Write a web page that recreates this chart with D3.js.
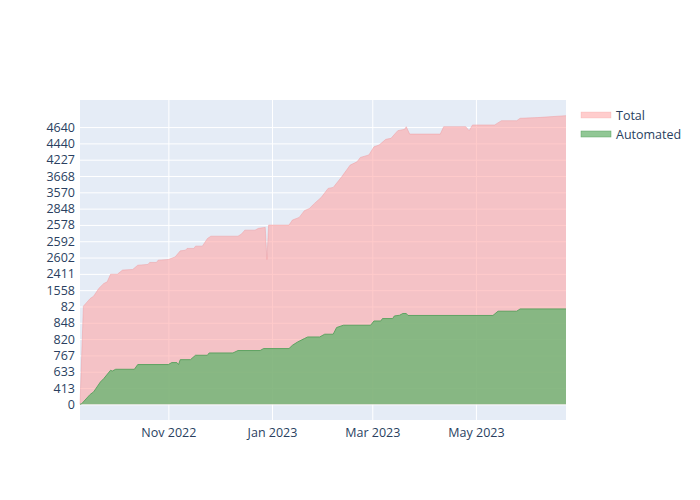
<!DOCTYPE html>
<html>
<head>
<meta charset="utf-8">
<script src="https://cdn.jsdelivr.net/npm/d3@7"></script>
<style>
  body { margin: 0; background: #fff; }
  svg { font-family: 'Open Sans', verdana, arial, sans-serif; }
</style>
</head>
<body>
<div id="chart"></div>
<script>
// y axis is categorical: labels in order of first appearance
const yCategories = ['0', '413', '633', '767', '820', '848', '82', '1558', '2411', '2602', '2592', '2578', '2848', '3570', '3668', '4227', '4440', '4640'];
const xTicks = ['2022-11-01', '2023-01-01', '2023-03-01', '2023-05-01'];
const seriesNames = ['Total', 'Automated'];

// values are positions on the category axis (1 = one labelled category step)
const totalDates = ['2022-09-10', '2022-09-12', '2022-09-16', '2022-09-18', '2022-09-21', '2022-09-24', '2022-09-26', '2022-09-28', '2022-10-02', '2022-10-05', '2022-10-11', '2022-10-14', '2022-10-20', '2022-10-21', '2022-10-25', '2022-10-26', '2022-11-01', '2022-11-05', '2022-11-08', '2022-11-11', '2022-11-12', '2022-11-16', '2022-11-17', '2022-11-21', '2022-11-24', '2022-11-26', '2022-12-12', '2022-12-14', '2022-12-16', '2022-12-22', '2022-12-24', '2022-12-28', '2022-12-29', '2022-12-30', '2023-01-11', '2023-01-13', '2023-01-17', '2023-01-20', '2023-01-23', '2023-01-26', '2023-01-30', '2023-02-03', '2023-02-06', '2023-02-11', '2023-02-16', '2023-02-20', '2023-02-22', '2023-02-27', '2023-03-02', '2023-03-05', '2023-03-09', '2023-03-12', '2023-03-16', '2023-03-20', '2023-03-21', '2023-03-23', '2023-04-10', '2023-04-12', '2023-04-25', '2023-04-27', '2023-04-29', '2023-05-12', '2023-05-16', '2023-05-25', '2023-05-27', '2023-06-06', '2023-06-23'];
const totalValues = [0, 6.02, 6.49, 6.63, 7.1, 7.41, 7.51, 7.98, 7.98, 8.23, 8.27, 8.53, 8.58, 8.7, 8.7, 8.84, 8.88, 9.04, 9.41, 9.45, 9.56, 9.56, 9.7, 9.7, 10.17, 10.31, 10.31, 10.44, 10.68, 10.68, 10.79, 10.85, 8.88, 10.99, 10.99, 11.3, 11.46, 11.87, 12.01, 12.32, 12.69, 13.24, 13.3, 13.95, 14.67, 14.87, 15.14, 15.29, 15.79, 15.9, 16.25, 16.31, 16.78, 16.86, 17.02, 16.57, 16.57, 17.02, 17.02, 16.78, 17.13, 17.13, 17.39, 17.39, 17.54, 17.58, 17.7];

const automatedDates = ['2022-09-10', '2022-09-11', '2022-09-16', '2022-09-18', '2022-09-22', '2022-09-24', '2022-09-28', '2022-09-29', '2022-10-01', '2022-10-12', '2022-10-14', '2022-11-01', '2022-11-03', '2022-11-06', '2022-11-07', '2022-11-08', '2022-11-14', '2022-11-17', '2022-11-24', '2022-11-25', '2022-12-09', '2022-12-12', '2022-12-25', '2022-12-27', '2023-01-11', '2023-01-13', '2023-01-16', '2023-01-20', '2023-01-22', '2023-01-29', '2023-02-01', '2023-02-06', '2023-02-08', '2023-02-12', '2023-02-28', '2023-03-02', '2023-03-06', '2023-03-07', '2023-03-13', '2023-03-14', '2023-03-17', '2023-03-19', '2023-03-21', '2023-03-22', '2023-05-11', '2023-05-14', '2023-05-25', '2023-05-27', '2023-06-23'];
const automatedValues = [0, 0.04, 0.61, 0.76, 1.37, 1.58, 2.09, 2.04, 2.15, 2.15, 2.44, 2.44, 2.56, 2.56, 2.44, 2.74, 2.74, 3.01, 3.01, 3.15, 3.15, 3.3, 3.3, 3.42, 3.42, 3.62, 3.82, 4.03, 4.13, 4.13, 4.3, 4.3, 4.71, 4.85, 4.85, 5.11, 5.11, 5.26, 5.26, 5.42, 5.46, 5.57, 5.57, 5.45, 5.45, 5.71, 5.71, 5.85, 5.85];

const parseDate = d3.timeParse('%Y-%m-%d');
const fontColor = '#2a3f5f';
const fontSize = '12.5px';

function drawChart() {
  const width = 700;
  const height = 500;
  const plot = { left: 80, top: 100, right: 566, bottom: 420 };

  const series = [
    {
      name: seriesNames[0],
      data: totalDates.map((d, i) => ({ date: parseDate(d), value: totalValues[i] })),
      fill: 'rgba(255,164,164,0.58)',
      line: 'rgba(240,150,155,0.45)',
      legendFill: 'rgba(255,164,164,0.55)',
    },
    {
      name: seriesNames[1],
      data: automatedDates.map((d, i) => ({ date: parseDate(d), value: automatedValues[i] })),
      fill: 'rgba(108,180,114,0.8)',
      line: 'rgba(85,160,92,0.9)',
      legendFill: 'rgba(108,180,114,0.75)',
    },
  ];

  const allDates = series.flatMap((s) => s.data.map((d) => d.date));

  const svg = d3
    .select('#chart')
    .append('svg')
    .attr('width', width)
    .attr('height', height);

  svg.append('rect').attr('width', width).attr('height', height).attr('fill', '#fff');

  const x = d3
    .scaleTime()
    .domain(d3.extent(allDates))
    .range([plot.left, plot.right]);

  const y = d3
    .scaleLinear()
    .domain([-0.96, 18.66])
    .range([plot.bottom, plot.top]);

  // plot background
  svg
    .append('rect')
    .attr('x', plot.left)
    .attr('y', plot.top)
    .attr('width', plot.right - plot.left)
    .attr('height', plot.bottom - plot.top)
    .attr('fill', '#e5ecf6');

  const yTickPos = yCategories.map((c, i) => i);
  const xTickDates = xTicks.map(parseDate);

  // grids
  svg
    .append('g')
    .attr('class', 'grid')
    .attr('transform', `translate(${plot.left},0)`)
    .call(d3.axisLeft(y).tickValues(yTickPos).tickSize(-(plot.right - plot.left)).tickFormat(''))
    .call((g) => g.select('.domain').remove())
    .call((g) => g.selectAll('line').attr('stroke', '#fff').attr('stroke-width', 1));

  svg
    .append('g')
    .attr('class', 'grid')
    .attr('transform', `translate(0,${plot.bottom})`)
    .call(d3.axisBottom(x).tickValues(xTickDates).tickSize(-(plot.bottom - plot.top)).tickFormat(''))
    .call((g) => g.select('.domain').remove())
    .call((g) => g.selectAll('line').attr('stroke', '#fff').attr('stroke-width', 1));

  // areas, filled to the first category
  const area = d3
    .area()
    .x((d) => x(d.date))
    .y0(y(0))
    .y1((d) => y(d.value));

  const line = d3
    .line()
    .x((d) => x(d.date))
    .y((d) => y(d.value));

  series.forEach((s) => {
    svg.append('path').datum(s.data).attr('fill', s.fill).attr('d', area);
    svg
      .append('path')
      .datum(s.data)
      .attr('fill', 'none')
      .attr('stroke', s.line)
      .attr('stroke-width', 1)
      .attr('d', line);
  });

  // axis labels
  svg
    .append('g')
    .attr('transform', `translate(${plot.left - 2},0)`)
    .call(d3.axisLeft(y).tickValues(yTickPos).tickSize(0).tickFormat((d) => yCategories[d]))
    .call((g) => g.select('.domain').remove())
    .call((g) =>
      g
        .selectAll('text')
        .attr('fill', fontColor)
        .style('font-size', fontSize)
        .style('font-family', "'Open Sans', verdana, arial, sans-serif")
    );

  svg
    .append('g')
    .attr('transform', `translate(0,${plot.bottom + 2})`)
    .call(d3.axisBottom(x).tickValues(xTickDates).tickSize(0).tickFormat(d3.timeFormat('%b %Y')))
    .call((g) => g.select('.domain').remove())
    .call((g) =>
      g
        .selectAll('text')
        .attr('fill', fontColor)
        .attr('dy', '0.92em')
        .style('font-size', fontSize)
        .style('font-family', "'Open Sans', verdana, arial, sans-serif")
    );

  // legend
  const legend = svg.append('g').attr('transform', 'translate(581,115)');
  series.forEach((s, i) => {
    const item = legend.append('g').attr('transform', `translate(0,${i * 19})`);
    item
      .append('rect')
      .attr('x', 0)
      .attr('y', -3)
      .attr('width', 30)
      .attr('height', 6)
      .attr('fill', s.legendFill)
      .attr('stroke', s.line)
      .attr('stroke-width', 0.5);
    item
      .append('text')
      .attr('x', 35)
      .attr('y', 4.5)
      .attr('fill', fontColor)
      .style('font-size', fontSize)
      .text(s.name);
  });
}

drawChart();
</script>
</body>
</html>
